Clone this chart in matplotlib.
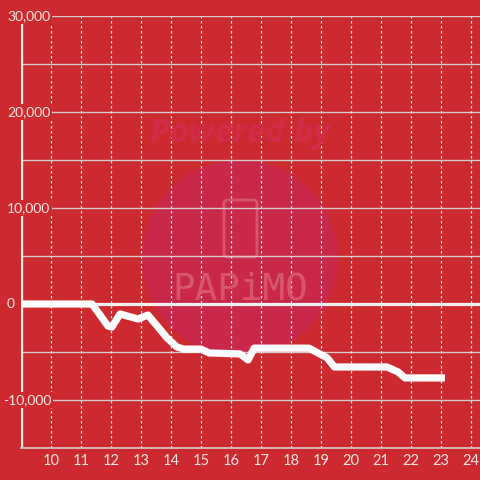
import numpy as np
import matplotlib
matplotlib.use('Agg')
import matplotlib.pyplot as plt
from matplotlib.patches import Circle, FancyBboxPatch
from matplotlib.transforms import blended_transform_factory

# Data (hour of day vs. value).
hours = [9.0, 11.37, 11.9, 12.03, 12.3, 12.9, 13.23, 13.57, 13.87, 14.2,
         14.43, 15.0, 15.27, 16.3, 16.57, 16.77, 18.6, 19.2, 19.45, 21.2,
         21.57, 21.8, 23.13]
values = [0, 0, -2300, -2400, -1040, -1560, -1150, -2400, -3540, -4480,
          -4700, -4700, -5100, -5200, -5830, -4600, -4600, -5600, -6560,
          -6560, -7080, -7700, -7700]

xticks = list(range(10, 25))
yticks = [-10000, 0, 10000, 20000, 30000]
ylabels = ['-10,000', '0', '10,000', '20,000', '30,000']

bg = '#cc2a2f'
txt = '#f3e6e6'
plt.rcParams['font.family'] = ['Lato', 'DejaVu Sans']

fig = plt.figure(figsize=(4.8, 4.8), dpi=100, facecolor=bg)
ax = fig.add_axes([21/480, 32/480, 459/480, 432/480])
ax.set_facecolor(bg)
ax.set_xlim(9, 24.3)
ax.set_ylim(-15000, 30000)

# Watermark.
ax.add_patch(Circle((0.5, 1 - 258/480), 98/480, transform=fig.transFigure,
                    facecolor='#c9284a', edgecolor='none', zorder=0.1))
ax.add_patch(FancyBboxPatch((224/480, 1 - 257/480), 33/480, 57/480,
                            boxstyle='round,pad=0,rounding_size=0.008',
                            transform=fig.transFigure, facecolor='none',
                            edgecolor='#d8566b', lw=2.0, zorder=0.2))
fig.text(0.50, 1 - 133/480, 'Powered by', ha='center', va='center',
         fontsize=24, fontweight='bold', style='italic', color='#d02c47',
         family='Open Sans', zorder=0.2)
fig.text(0.5, 1 - 290/480, 'PAPiMO', ha='center', va='center',
         fontsize=27, color='#d8566b', family='DejaVu Sans Mono',
         zorder=0.2)

# Gridlines.
for y in range(-10000, 30001, 5000):
    ax.axhline(y, color='#d6c8c8', lw=1.0, zorder=0.5)
for x in xticks:
    ax.axvline(x, color='#f0e4e4', lw=0.9, ls=(0, (2, 2)), zorder=0.5)
ax.axhline(0, color='#f7f0f0', lw=2.3, zorder=1)

# Series.
ax.plot(hours, values, color='white', lw=5.2, solid_joinstyle='round',
        solid_capstyle='butt', zorder=3)

for side in ['top', 'right', 'left']:
    ax.spines[side].set_visible(False)
ax.spines['bottom'].set_color('#d8cccc')
ax.spines['bottom'].set_linewidth(1.2)
ax.axvline(9.0, color='#f3ecec', lw=2.4, zorder=1.5)

ax.set_xticks(xticks)
ax.set_xticklabels([str(x) for x in xticks])
ax.tick_params(axis='x', length=0, pad=4, labelsize=10.5, labelcolor=txt)
ax.set_yticks([])

trans = blended_transform_factory(fig.transFigure, ax.transData)
for y, lab in zip(yticks, ylabels):
    xpos = 3/480 if lab.startswith('-') else 7/480
    ax.text(xpos, y, lab, transform=trans, ha='left', va='center',
            fontsize=10, color=txt, zorder=4, clip_on=False,
            bbox=dict(facecolor=bg, edgecolor='none', pad=1.5))

fig.savefig('out.png', dpi=100, facecolor=bg)
